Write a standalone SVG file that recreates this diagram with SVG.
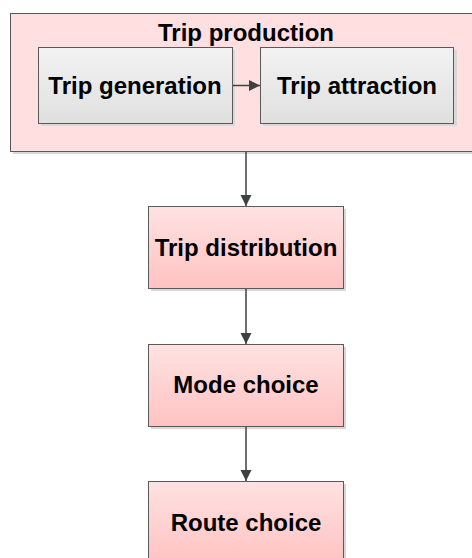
<svg xmlns="http://www.w3.org/2000/svg" width="472" height="558" viewBox="0 0 472 558">
<defs>
<linearGradient id="pink" x1="0" y1="0" x2="0" y2="1"><stop offset="0" stop-color="#ffe2e2"/><stop offset="1" stop-color="#ffc2c2"/></linearGradient>
<linearGradient id="gray" x1="0" y1="0" x2="0" y2="1"><stop offset="0" stop-color="#f2f2f2"/><stop offset="1" stop-color="#e0e0e0"/></linearGradient>
<marker id="ah" markerWidth="12" markerHeight="12" refX="11" refY="6" orient="auto" markerUnits="userSpaceOnUse"><path d="M0,0.5 L11,6 L0,11.5 Z" fill="#404040"/></marker>
<style>
.lbl{font-family:"Liberation Sans",Arial,sans-serif;font-weight:bold;font-size:24px;fill:#000;text-anchor:middle}
.sh{fill:#d8d8d8}
.box{stroke:#595959;stroke-width:1}
.con{stroke:#404040;stroke-width:1.5;fill:none}
</style>
</defs>
<g id="trip-production">
<rect class="sh" x="13" y="16" width="470" height="138"/>
<rect x="10.5" y="13.5" width="470" height="138" fill="#ffdfe0" class="box"/>
<text class="lbl" x="246" y="41">Trip production</text>
</g>
<g id="trip-generation">
<rect class="sh" x="41" y="50" width="194" height="76"/>
<rect x="38.5" y="47.5" width="194" height="76" fill="url(#gray)" class="box"/>
<text class="lbl" x="135" y="94">Trip generation</text>
</g>
<g id="trip-attraction">
<rect class="sh" x="263" y="50" width="194" height="76"/>
<rect x="260.5" y="47.5" width="193" height="76" fill="url(#gray)" class="box"/>
<text class="lbl" x="357" y="94">Trip attraction</text>
</g>
<g id="trip-distribution">
<rect class="sh" x="151" y="209" width="195" height="82"/>
<rect x="148.5" y="206.5" width="195" height="82" fill="url(#pink)" class="box"/>
<text class="lbl" x="246" y="256">Trip distribution</text>
</g>
<g id="mode-choice">
<rect class="sh" x="151" y="347" width="195" height="82"/>
<rect x="148.5" y="344.5" width="195" height="82" fill="url(#pink)" class="box"/>
<text class="lbl" x="246" y="393">Mode choice</text>
</g>
<g id="route-choice">
<rect class="sh" x="151" y="484" width="195" height="82"/>
<rect x="148.5" y="481.5" width="195" height="82" fill="url(#pink)" class="box"/>
<text class="lbl" x="246" y="531">Route choice</text>
</g>
<g id="connectors">
<line class="con" x1="233" y1="85.5" x2="260" y2="85.5" marker-end="url(#ah)"/>
<line class="con" x1="246" y1="152" x2="246" y2="206" marker-end="url(#ah)"/>
<line class="con" x1="246" y1="289" x2="246" y2="344" marker-end="url(#ah)"/>
<line class="con" x1="246" y1="427" x2="246" y2="481" marker-end="url(#ah)"/>
</g>
</svg>
